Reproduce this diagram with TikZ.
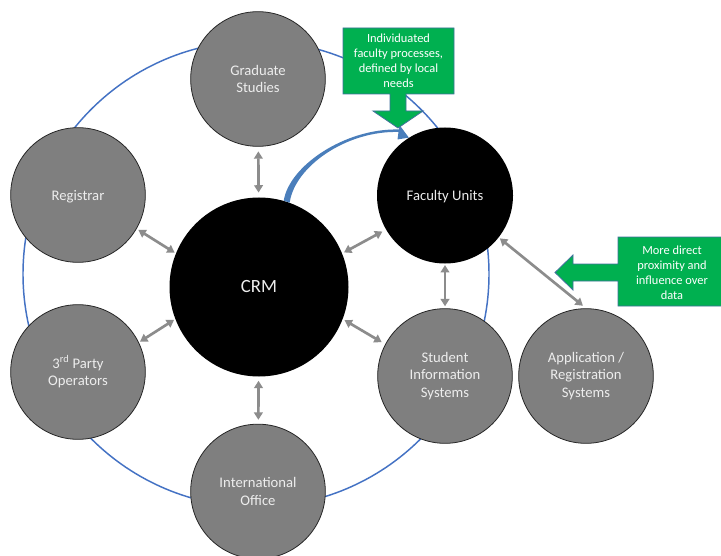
\documentclass[tikz,border=0pt]{standalone}
\usepackage{fontspec}
\setmainfont{Carlito}
\usetikzlibrary{arrows.meta}
\definecolor{ringblue}{HTML}{4472C4}
\definecolor{cgray}{HTML}{7F7F7F}
\definecolor{agray}{HTML}{8C8C8C}
\definecolor{cgreen}{HTML}{00B050}
\definecolor{cedge}{HTML}{41719C}
\definecolor{carrow}{HTML}{4A7EBB}
\definecolor{ctxt}{HTML}{EDEDED}
\tikzset{
 ring/.style={circle, draw=ringblue, line width=1.1pt, minimum size=349.5pt, inner sep=0pt},
 graycircle/.style={circle, fill=cgray, draw=black!85, line width=0.6pt, minimum size=101pt, inner sep=0pt, text=ctxt, align=center, font=\fontsize{11}{13.4}\selectfont},
 blackcircle/.style={circle, fill=black, minimum size=102pt, inner sep=0pt, text=ctxt, align=center, font=\fontsize{11}{13.4}\selectfont},
 garr/.style={draw=agray, line width=2pt, {Triangle[length=5.5pt,width=6.5pt]}-{Triangle[length=5.5pt,width=6.5pt]}},
 callout/.style={fill=cgreen, draw=cedge, line width=0.6pt},
 gtext/.style={text=white, align=center, font=\fontsize{9.3}{11.3}\selectfont, inner sep=0pt},
 curvearr/.style={fill=carrow}
}
\begin{document}
\begin{tikzpicture}[x=0.75pt,y=-0.75pt]
\useasboundingbox (0,0) rectangle (721,556);
\fill[white] (0,0) rectangle (721,556);
% outer ring
\node[ring] (ring) at (256,274) {};
% circles
\node[graycircle] (grad) at (258,79) {Graduate\\Studies};
\node[graycircle, text depth=0pt] (reg) at (78,195) {Registrar};
\node[blackcircle, minimum size=134.25pt, font=\fontsize{14}{17}\selectfont] (crm) at (259,287) {CRM};
\node[blackcircle, text depth=0pt] (fac) at (445,195.5) {Faculty Units};
\node[graycircle] (third) at (78,372) {3\textsuperscript{rd} Party\\Operators};
\node[graycircle] (intl) at (258,491.5) {International\\Office};
\node[graycircle] (sis) at (445,376) {Student\\Information\\Systems};
\node[graycircle] (app) at (586,376) {Application /\\Registration\\Systems};
% connectors
\draw[garr, shorten <=3.5pt, shorten >=3.5pt] (grad) -- (crm);
\draw[garr, shorten <=1.5pt, shorten >=1pt] (reg.-30) -- (crm.158);
\draw[garr, shorten <=1.5pt, shorten >=3pt] (crm.22) -- (fac.210);
\draw[garr, shorten <=1pt, shorten >=1pt] (third.26) -- (crm.201);
\draw[garr, shorten <=1.5pt, shorten >=3pt] (crm.-21) -- (sis.152);
\draw[garr, shorten <=3pt, shorten >=3pt] (crm) -- (intl);
\draw[garr, shorten <=1pt, shorten >=1.5pt] (fac) -- (sis);
\draw[garr, shorten <=1pt, shorten >=3pt] (fac.-38) -- (app.90);
% curved tapered blue arrow from CRM to Faculty Units
\fill[curvearr] (crm.74) .. controls (289,166) and (345,128) .. (399,129.5)
  -- (399.5,125) -- (fac.122) -- (397.5,139.5) -- (398.5,132)
  .. controls (346,130.5) and (294.5,167) .. (crm.70) -- cycle;
% callout 1
\draw[callout] (343,28) -- (454,28) -- (454,94) -- (406,94) -- (406,111) -- (423,111) -- (398,128)
  -- (373,111) -- (390,111) -- (390,94) -- (343,94) -- cycle;
\node[gtext] (t1) at (398.5,60.5) {Individuated\\faculty processes,\\defined by local\\needs};
% callout 2
\draw[callout] (618,237) -- (726,237) -- (726,306) -- (618,306) -- (618,281) -- (573,281) -- (573,290)
  -- (555,272.5) -- (573,255) -- (573,264) -- (618,264) -- cycle;
\node[gtext] (t2) at (672,272.5) {More direct\\proximity and\\influence over\\data};
\end{tikzpicture}
\end{document}
